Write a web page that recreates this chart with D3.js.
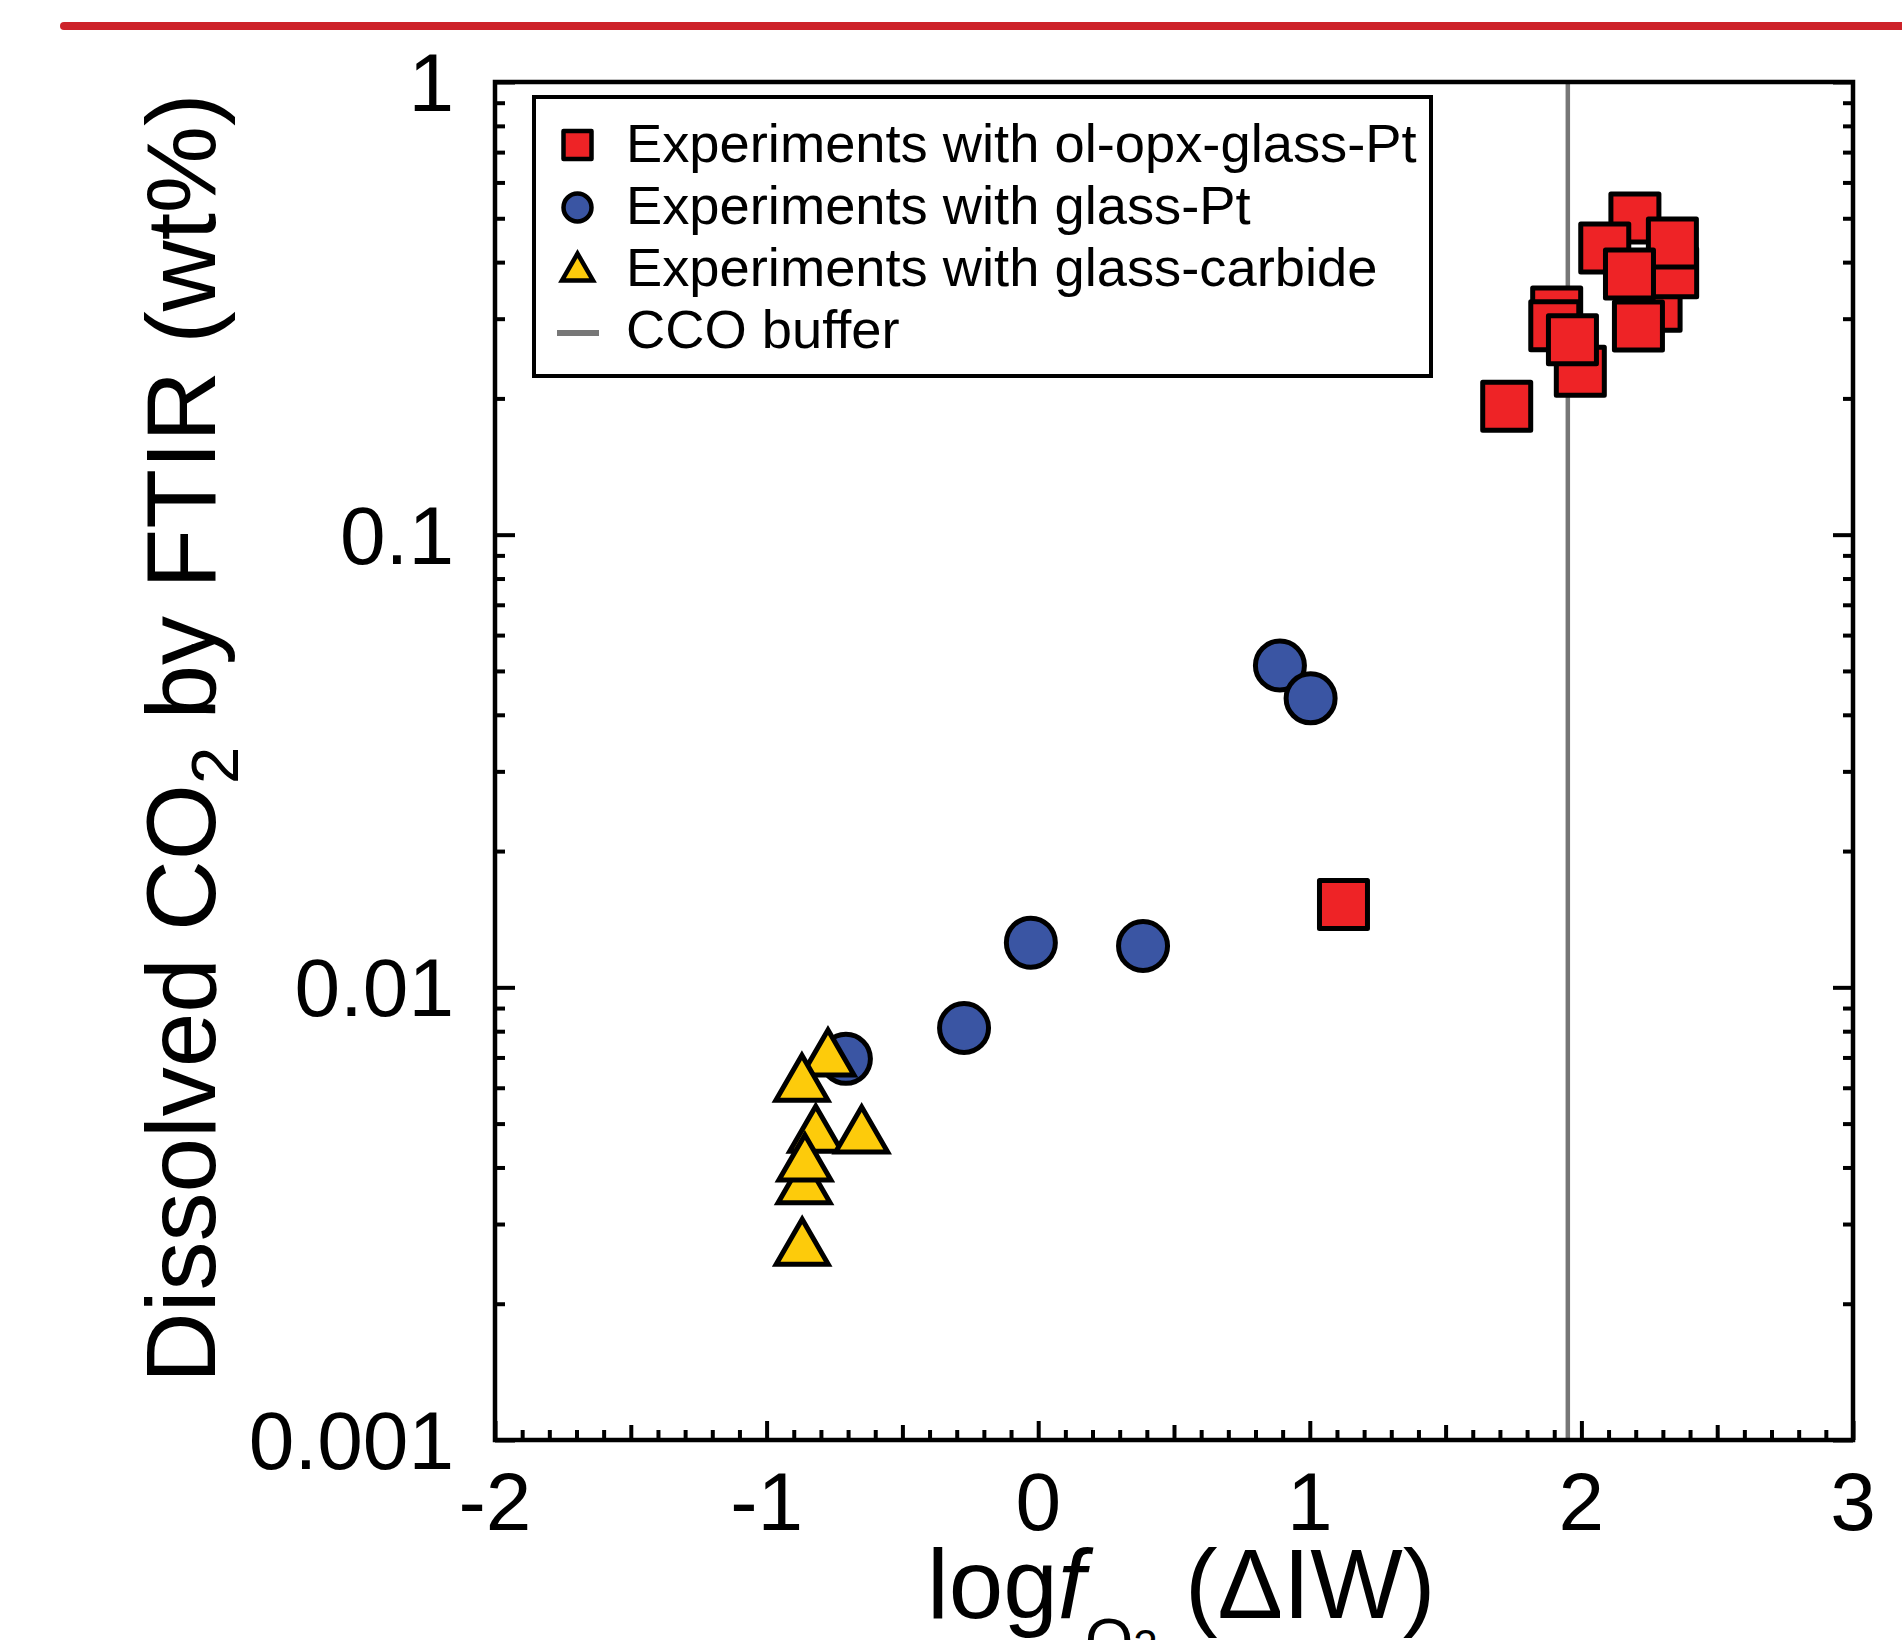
<!DOCTYPE html>
<html>
<head>
<meta charset="utf-8">
<script src="https://cdn.jsdelivr.net/npm/d3@7"></script>
<style>
  html, body { margin: 0; padding: 0; background: #fff; }
  svg { display: block; }
  text { font-family: "Liberation Sans", Arial, Helvetica, sans-serif; fill: #000; }
</style>
</head>
<body>
<svg id="chart" width="1902" height="1640"></svg>
<script>
// ---------- data ----------
const olOpxX = [1.124, 1.725, 1.996, 1.909, 1.902, 1.967, 2.197, 2.275, 2.210, 2.336, 2.086, 2.335, 2.177];
const olOpxY = [0.01524, 0.1921, 0.2296, 0.3103, 0.2895, 0.2696, 0.5007, 0.3195, 0.2891, 0.3792, 0.4298, 0.4409, 0.3765];

const glassPtX = [0.890, 1.003, -0.027, 0.386, -0.273, -0.708];
const glassPtY = [0.0514, 0.0435, 0.01255, 0.01234, 0.00813, 0.00695];

const carbideX = [-0.774, -0.870, -0.819, -0.650, -0.862, -0.859, -0.869];
const carbideY = [0.00718, 0.00631, 0.00487, 0.00485, 0.00375, 0.00421, 0.00274];

const ccoBuffer = 1.95;

const xTicks = [-2, -1, 0, 1, 2, 3];
const xTickLabels = ["-2", "-1", "0", "1", "2", "3"];
const yTicks = [0.001, 0.01, 0.1, 1];
const yTickLabels = ["0.001", "0.01", "0.1", "1"];

const legendLabels = [
  "Experiments with ol-opx-glass-Pt",
  "Experiments with glass-Pt",
  "Experiments with glass-carbide",
  "CCO buffer"
];

// ---------- layout ----------
const RED = "#ee2326", BLUE = "#3a55a3", YELLOW = "#fdcb0b", GREY = "#777777";
const L = 495, R = 1853, T = 82, B = 1440;

const svg = d3.select("#chart");
const x = d3.scaleLinear().domain([-2, 3]).range([L, R]);
const y = d3.scaleLog().domain([0.001, 1]).range([B, T]);

// top red rule
svg.append("line").attr("x1", 64).attr("x2", 1910).attr("y1", 26).attr("y2", 26)
  .attr("stroke", "#cd2229").attr("stroke-width", 8).attr("stroke-linecap", "round");

// CCO buffer line (under markers)
svg.append("line").attr("x1", x(ccoBuffer)).attr("x2", x(ccoBuffer))
  .attr("y1", T).attr("y2", B).attr("stroke", GREY).attr("stroke-width", 4.5);

// ---------- axes (ticks inward) ----------
const tickW = 4;
const xMinor = d3.range(-20, 31).map(i => i / 10);
const bottom = svg.append("g").attr("transform", `translate(0,${B})`);
bottom.call(d3.axisBottom(x).tickValues(xMinor).tickSize(0).tickFormat(""));
bottom.select(".domain").remove();
bottom.selectAll(".tick line")
  .attr("y2", d => {
    const k = Math.round(d * 10);
    if (k % 10 === 0) return -19;
    if (k % 5 === 0) return -15;
    return -10;
  })
  .attr("stroke", "#000").attr("stroke-width", tickW);

const yMinor = [];
[0.001, 0.01, 0.1].forEach(dec => { for (let m = 1; m <= 9; m++) yMinor.push(dec * m); });
yMinor.push(1);
const isMajor = d => Math.abs(Math.log10(d) - Math.round(Math.log10(d))) < 1e-9;

const left = svg.append("g").attr("transform", `translate(${L},0)`);
left.call(d3.axisLeft(y).tickValues(yMinor).tickSize(0).tickFormat(""));
left.select(".domain").remove();
left.selectAll(".tick line").attr("x2", d => isMajor(d) ? 20 : 10)
  .attr("stroke", "#000").attr("stroke-width", tickW);

const right = svg.append("g").attr("transform", `translate(${R},0)`);
right.call(d3.axisRight(y).tickValues(yMinor).tickSize(0).tickFormat(""));
right.select(".domain").remove();
right.selectAll(".tick line").attr("x2", d => isMajor(d) ? -20 : -10)
  .attr("stroke", "#000").attr("stroke-width", tickW);

// frame
svg.append("rect").attr("x", L).attr("y", T).attr("width", R - L).attr("height", B - T)
  .attr("fill", "none").attr("stroke", "#000").attr("stroke-width", 4.5);

// tick labels
svg.append("g").selectAll("text").data(xTicks).join("text")
  .attr("x", d => x(d)).attr("y", 1530)
  .attr("text-anchor", "middle").attr("font-size", 82)
  .text((d, i) => xTickLabels[i]);

svg.append("g").selectAll("text").data(yTicks).join("text")
  .attr("x", 454).attr("y", d => y(d) + 29)
  .attr("text-anchor", "end").attr("font-size", 82)
  .text((d, i) => yTickLabels[i]);

// axis titles
const xt = svg.append("text").attr("x", 927).attr("y", 1618).attr("font-size", 98);
xt.append("tspan").text("log");
xt.append("tspan").attr("font-style", "italic").text("f");
xt.append("tspan").attr("font-size", 62).attr("dy", 43).text("O");
xt.append("tspan").attr("font-size", 44).attr("dy", 0).text("2");
xt.append("tspan").attr("dy", -43).text(" (\u0394IW)");

const yt = svg.append("text").attr("transform", "translate(215,1383) rotate(-90)")
  .attr("font-size", 98);
yt.append("tspan").text("Dissolved CO");
yt.append("tspan").attr("font-size", 67).attr("dy", 23).text("2");
yt.append("tspan").attr("dy", -23).text(" by FTIR (wt%)");

// ---------- markers ----------
const sq = 48, cr = 24.5, tri = 52;
const triPath = s => {
  const h = s * Math.sqrt(3) / 2;
  return `M0,${-h / 2}L${s / 2},${h / 2}L${-s / 2},${h / 2}Z`;
};

svg.append("g").selectAll("rect").data(olOpxX.map((v, i) => [v, olOpxY[i]])).join("rect")
  .attr("x", d => x(d[0]) - sq / 2).attr("y", d => y(d[1]) - sq / 2)
  .attr("width", sq).attr("height", sq)
  .attr("fill", RED).attr("stroke", "#000").attr("stroke-width", 5).attr("stroke-linejoin", "round");

svg.append("g").selectAll("circle").data(glassPtX.map((v, i) => [v, glassPtY[i]])).join("circle")
  .attr("cx", d => x(d[0])).attr("cy", d => y(d[1])).attr("r", cr)
  .attr("fill", BLUE).attr("stroke", "#000").attr("stroke-width", 5);

svg.append("g").selectAll("path").data(carbideX.map((v, i) => [v, carbideY[i]])).join("path")
  .attr("transform", d => `translate(${x(d[0])},${y(d[1])})`)
  .attr("d", triPath(tri))
  .attr("fill", YELLOW).attr("stroke", "#000").attr("stroke-width", 5).attr("stroke-linejoin", "miter");

// ---------- legend ----------
svg.append("rect").attr("x", 534).attr("y", 97).attr("width", 897).attr("height", 279)
  .attr("fill", "#fff").attr("stroke", "#000").attr("stroke-width", 4);

const rowY = [145, 207.5, 267, 333];
const rowBase = [162, 224, 286, 348];
const lx = 577.5;
svg.append("rect").attr("x", lx - 14).attr("y", rowY[0] - 14).attr("width", 28).attr("height", 28)
  .attr("fill", RED).attr("stroke", "#000").attr("stroke-width", 4.5).attr("stroke-linejoin", "round");
svg.append("circle").attr("cx", lx).attr("cy", rowY[1]).attr("r", 14)
  .attr("fill", BLUE).attr("stroke", "#000").attr("stroke-width", 4.5);
svg.append("path").attr("transform", `translate(${lx},${rowY[2]})`).attr("d", triPath(31))
  .attr("fill", YELLOW).attr("stroke", "#000").attr("stroke-width", 4.5);
svg.append("line").attr("x1", 557).attr("x2", 599).attr("y1", rowY[3]).attr("y2", rowY[3])
  .attr("stroke", GREY).attr("stroke-width", 6);

svg.append("g").selectAll("text").data(legendLabels).join("text")
  .attr("x", 626).attr("y", (d, i) => rowBase[i])
  .attr("font-size", 54.3).text(d => d);
</script>
</body>
</html>
